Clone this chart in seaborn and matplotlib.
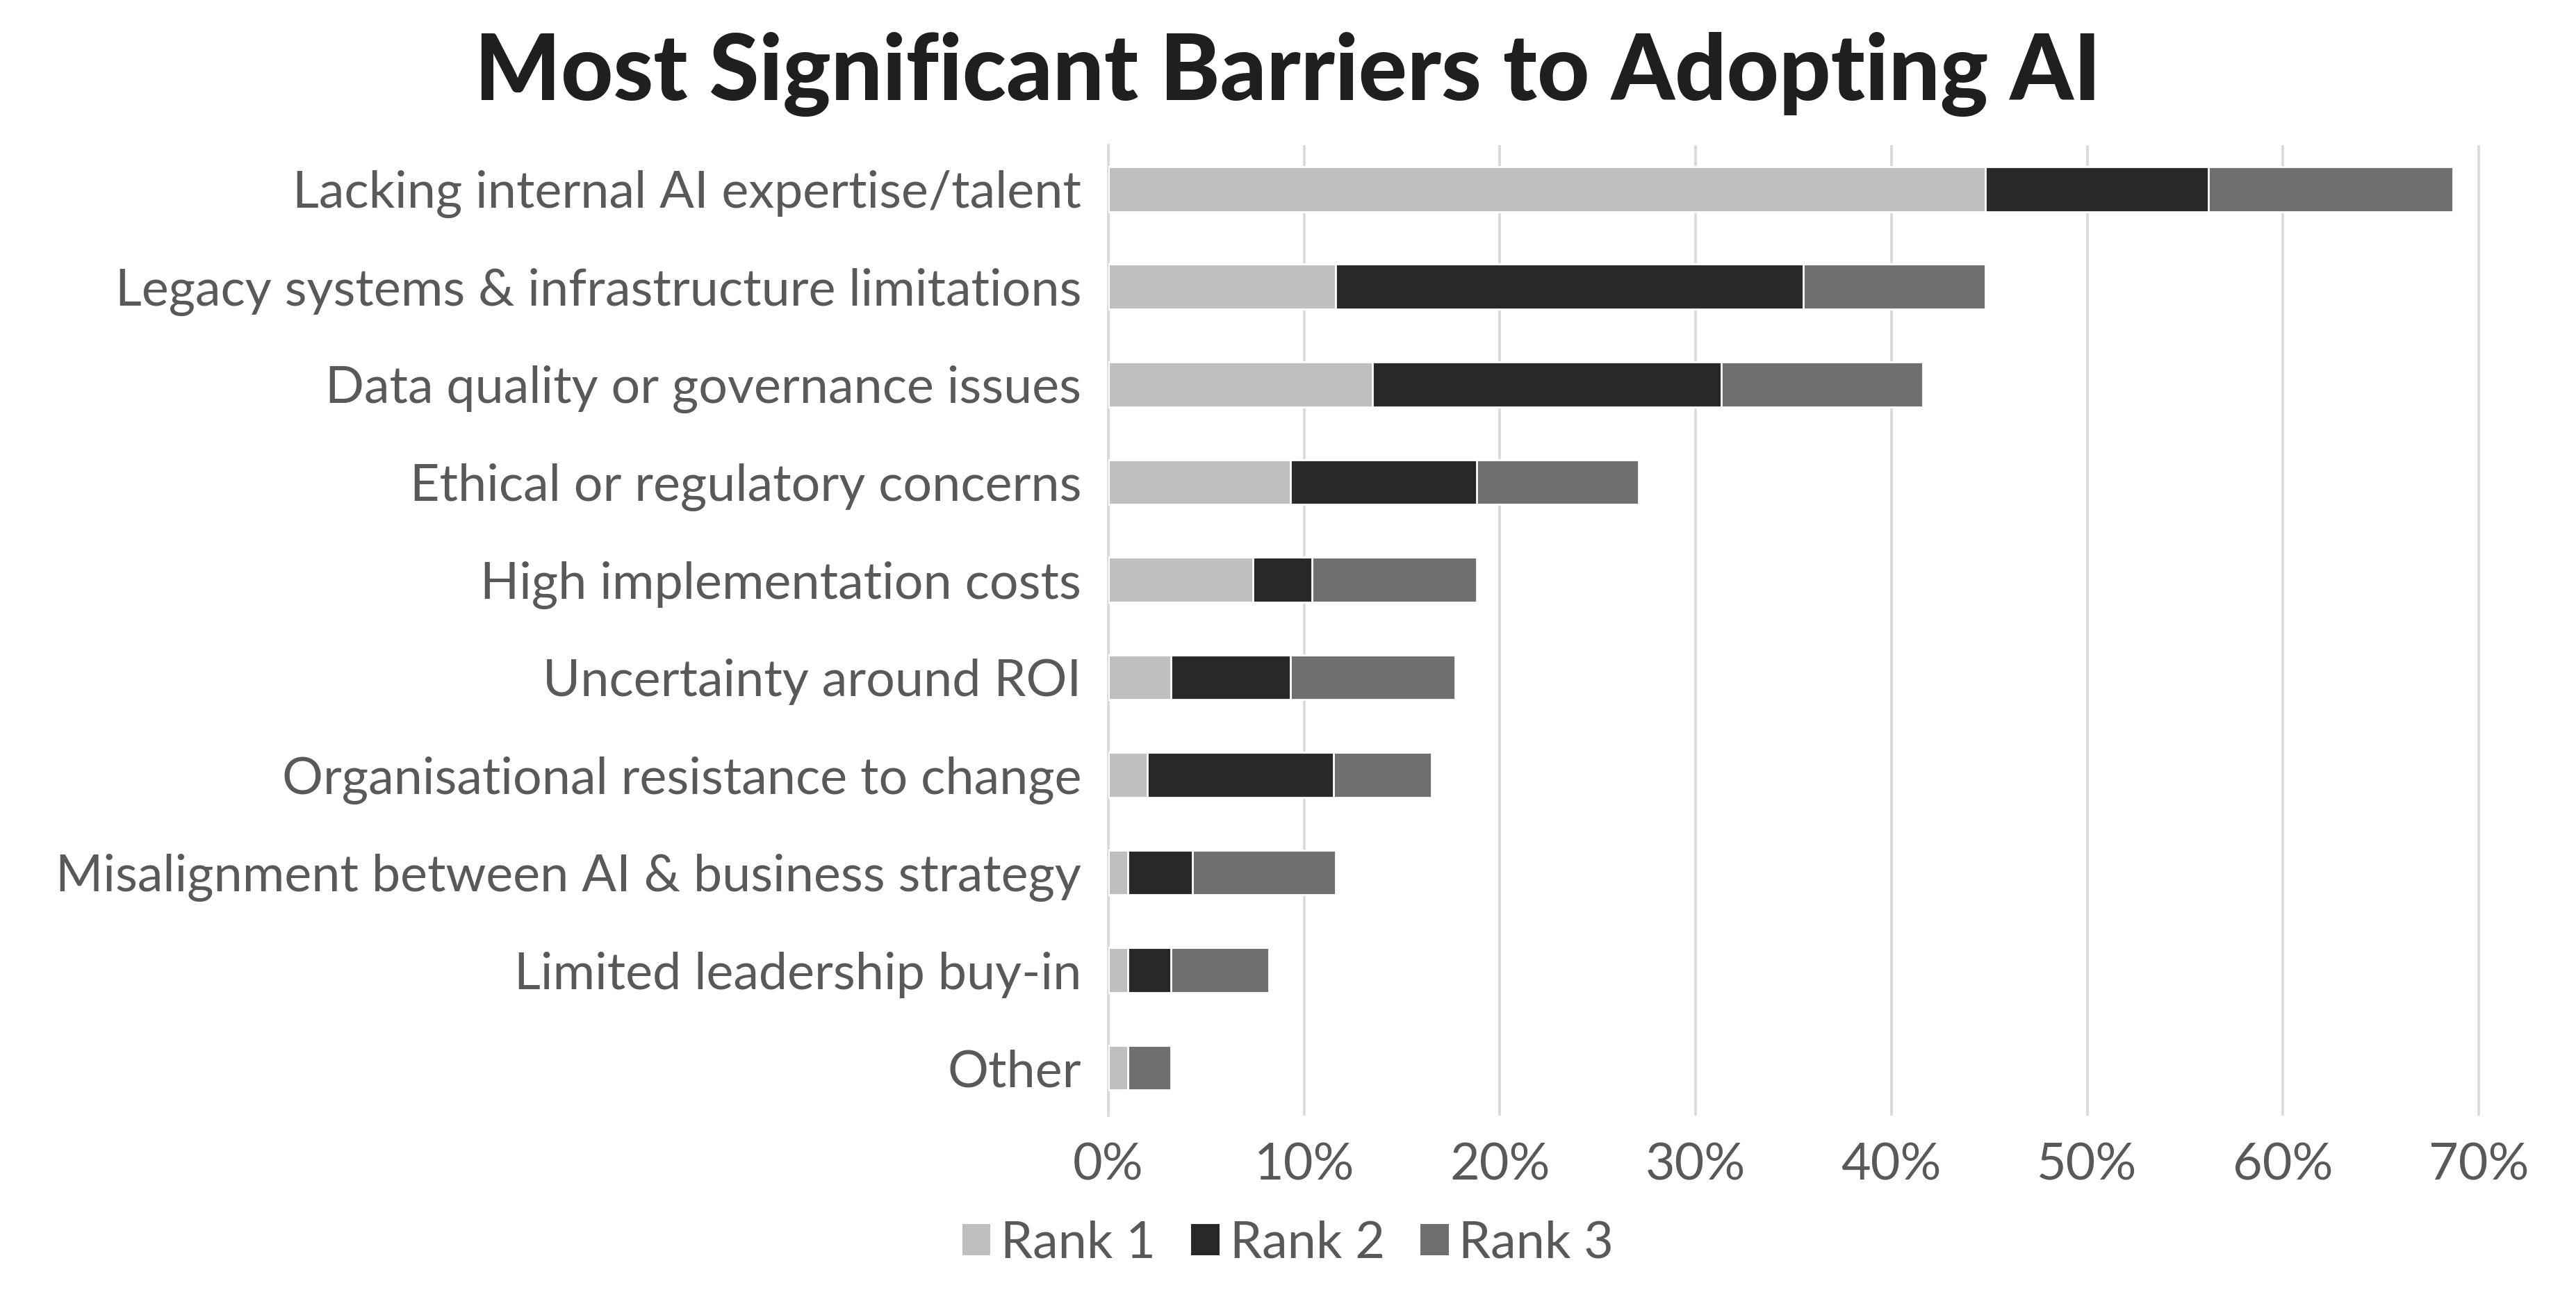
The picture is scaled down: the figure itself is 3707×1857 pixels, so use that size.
import matplotlib
matplotlib.use('Agg')
import matplotlib.pyplot as plt
import matplotlib.ticker as mticker
from matplotlib.patches import Patch
import seaborn as sns
import pandas as pd

# Data (percent of respondents)
barriers = [
    'Lacking internal AI expertise/talent',
    'Legacy systems & infrastructure limitations',
    'Data quality or governance issues',
    'Ethical or regulatory concerns',
    'High implementation costs',
    'Uncertainty around ROI',
    'Organisational resistance to change',
    'Misalignment between AI & business strategy',
    'Limited leadership buy-in',
    'Other',
]
rank1 = [44.8, 11.6, 13.5, 9.3, 7.4, 3.2, 2.0, 1.0, 1.0, 1.0]
rank2 = [11.4, 23.9, 17.8, 9.5, 3.0, 6.1, 9.5, 3.3, 2.2, 0.0]
rank3 = [12.5, 9.3, 10.3, 8.3, 8.4, 8.4, 5.0, 7.3, 5.0, 2.2]
series_names = ['Rank 1', 'Rank 2', 'Rank 3']
colors = ['#bfbfbf', '#282828', '#6f6f6f']
xticks = [0, 10, 20, 30, 40, 50, 60, 70]

df = pd.DataFrame({'barrier': barriers, 'Rank 1': rank1, 'Rank 2': rank2, 'Rank 3': rank3})
df['c1'] = df['Rank 1']
df['c2'] = df['c1'] + df['Rank 2']
df['c3'] = df['c2'] + df['Rank 3']

sns.set_theme(style='white')
plt.rcParams['font.family'] = ['Lato', 'DejaVu Sans']

W, H, DPI = 3707, 1857, 200
fig = plt.figure(figsize=(W / DPI, H / DPI), dpi=DPI)
x0, x70 = 1595, 3567
xmax = 70.4
ax_w = (x70 - x0) / 70 * xmax / W
ax = fig.add_axes([x0 / W, 1 - 1606 / H, ax_w, (1606 - 209) / H])

# stacked bars: draw cumulative totals from largest to smallest
for col, c in zip(['c3', 'c2', 'c1'], colors[::-1]):
    sns.barplot(data=df, x=col, y='barrier', color=c, width=0.46,
                saturation=1, ax=ax, orient='h', zorder=3)

ax.set_xlim(0, xmax)
ax.set_ylim(9.49, -0.45)
ax.set_xticks(xticks)
ax.xaxis.set_major_formatter(mticker.FuncFormatter(lambda v, p: f'{v:.0f}%'))
ax.grid(axis='x', color='#d9d9d9', linewidth=1.3, zorder=0)
ax.grid(axis='y', visible=False)
for s in ['top', 'right', 'bottom']:
    ax.spines[s].set_visible(False)
ax.spines['left'].set_color('#d9d9d9')
ax.spines['left'].set_linewidth(1.3)
ax.set_xlabel('')
ax.set_ylabel('')
ax.tick_params(axis='both', length=0, labelsize=26.5, colors='#595959')
ax.tick_params(axis='y', pad=14)
ax.tick_params(axis='x', pad=14)

fig.text(0.5, 1 - 107 / H, 'Most Significant Barriers to Adopting AI',
         ha='center', va='center', fontsize=47, fontweight='black', color='#1f1f1f')

handles = [Patch(facecolor=c, edgecolor='none', label=n) for n, c in zip(series_names, colors)]
fig.legend(handles=handles, loc='center', bbox_to_anchor=(0.5, 1 - 1790 / H), ncol=3,
           frameon=False, fontsize=26.5, labelcolor='#595959', handlelength=0.55,
           handleheight=0.55, handletextpad=0.2, columnspacing=0.7)

fig.savefig('out.png', dpi=DPI)
